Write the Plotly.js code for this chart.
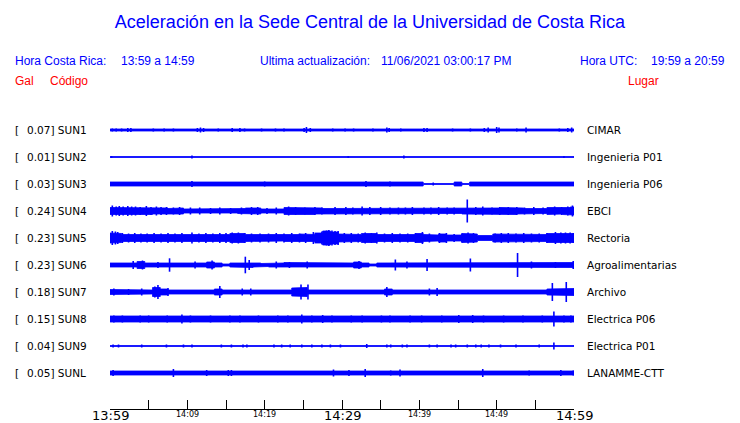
<!DOCTYPE html>
<html>
<head>
<meta charset="utf-8">
<script src="https://cdn.plot.ly/plotly-3.0.1.min.js"></script>
<style>html,body{margin:0;padding:0;background:#fff;}#chart{width:740px;height:423px;}</style>
</head>
<body>
<div id="chart"></div>
<script>
// ---------------- DATA ----------------
const stations = ["SUN1","SUN2","SUN3","SUN4","SUN5","SUN6","SUN7","SUN8","SUN9","SUNL"];
const galValues = ["0.07","0.01","0.03","0.24","0.23","0.23","0.18","0.15","0.04","0.05"];
const places = ["CIMAR","Ingenieria P01","Ingenieria P06","EBCI","Rectoria","Agroalimentarias","Archivo","Electrica P06","Electrica P01","LANAMME-CTT"];

// time axis: minutes after 13:59 (one envelope sample per minute)
const tickMinutes = [0,5,10,15,20,25,30,35,40,45,50,55,60];
const labelMinutes = [0,10,20,30,40,50,60];
const labelTexts  = ["13:59","14:09","14:19","14:29","14:39","14:49","14:59"];
const labelMajor  = [true,false,false,true,false,false,true];

// envelope half-amplitude per minute (display units)
const SUN1_env = [1,1,1,0.5,0.5,0.7,1,1,1,0.7,0.5,1,1,0.5,0.7,0.7,1,1,0.5,0.7,0.5,1,1,0.5,0.7,1,1,0.5,0.7,1,1,1,0.7,0.7,1,1,1,0.7,0.7,0.5,0.7,1,0.5,0.5,0.7,0.5,0.7,1,1,1,1,0.5,0.7,0.7,0.5,0.5,0.5,0.5,1,1,1];
const SUN2_env = [0.5,0.5,0.5,0.5,0.5,0.5,0.5,0.5,0.5,0.5,0.5,0.5,0.5,0.5,0.5,0.5,0.5,0.5,0.5,0.5,0.5,0.5,0.5,0.5,0.5,0.5,0.5,0.5,0.5,0.5,0.5,0.5,0.5,0.5,0.5,0.5,0.5,0.5,0.5,0.5,0.5,0.5,0.5,0.5,0.5,0.5,0.5,0.5,0.5,0.5,0.5,0.5,0.5,0.5,0.5,0.5,0.5,0.5,0.5,0.5,0.5];
const SUN3_env = [2,2,2,2,2,2,2,2,2,2,2,2,2,2,2,2,2,2,2,2,2.3,2,2,2,2,2,2,2,2,2,2,2,2,2,2,2,2,2,2,2,2,0.5,0.5,0.5,0.5,2,0.5,2,2,2,2,2,2,2,2,2,2,2,2,2,2];
const SUN4_env = [3.5,3.5,3.5,3.5,3,3.5,3,3,2.5,3,2,2,2,2,2,2,2,2.5,3,3,2,2,2,3.5,3,3,3.5,3,2.5,2.5,3,3,3,3,2.5,2.5,2.5,2.5,2.5,3,2.5,2.5,3,3,3,2.5,3,3,3,3,3,3.5,3.5,3,2.5,2.5,2.5,3.5,3,3.5,4];
const SUN5_env = [5,4.5,3.5,3.5,3.5,3,3.5,3,3.5,3.5,3.5,3,3.5,3.5,3.5,3.5,4.5,4.5,3.5,3.5,3.5,3.5,3,3.5,3.5,4,3.5,5,7,6,4,4,3.5,4.5,4.5,3.5,3.5,3.5,3.5,3.5,4.5,3.5,3,4,3,3,4.5,4,2.5,2.5,4,3.5,3.5,3.5,3.5,3.5,3.5,4.5,5,5,4.5];
const SUN6_env = [2,2,2,2,3.5,2,2,2,2,2,2,2.5,2,3,2,1,2,2.5,2.5,2,1.5,2,2,2.5,2,2,2,2,2,1.8,1.8,2,3,2,1,2,2,2,2,2,2,2.5,2,2,2,2,2,2,2,2,2,2.5,2.5,2.5,2,2,2,2,2,2,2.5];
const SUN7_env = [2.5,2,2,2,2,2,4.5,3,2,2.5,2.5,2.5,2.5,2,3,2,2,2,2,2.5,2,2,2,2,4,4.5,2,2,2.5,2,2.5,2.5,2,2,2,2,3,2,2,2,2,2,2.5,2,2,2,2,2,2,2.5,2,2,2,2,2,2,2,3,3,3.5,3.5];
const SUN8_env = [3,2.5,2.5,2.5,2.5,2.5,2.5,2.5,2.5,3,2.5,2.5,2.5,2.5,2.5,2.5,2.5,2.5,2.5,2.5,2.5,2.5,2.5,2.5,3,3,2.5,3,2.5,2.5,2.5,2.5,2.5,2.5,2.5,2.5,2.5,2.5,2.5,2.5,2.5,2.5,2.5,2.5,2.5,3,3,2.5,2.5,2.5,2.5,2.5,2.5,2.5,2.5,2.5,2.5,3,2.5,3,3];
const SUN9_env = [0.5,0.5,0.5,0.5,0.5,0.5,0.5,0.5,0.5,0.5,0.5,0.5,0.5,0.5,0.5,0.5,0.5,0.5,0.5,0.5,0.5,0.5,0.5,0.5,0.5,0.5,0.5,0.5,0.5,0.5,0.5,0.5,0.5,0.5,0.5,0.5,0.5,0.5,0.5,0.5,0.5,0.5,0.5,0.5,0.5,0.5,0.5,0.5,0.5,0.5,0.5,0.5,0.5,0.5,0.5,0.5,0.5,0.5,0.5,0.5,0.5];
const SUNL_env = [2,2,2,2,2,2,2,2,2,1.5,1.5,1.5,1.5,2,2,2,2,2,2,2,2,1.8,1.8,1.8,1.8,1.8,1.8,1.8,1.8,1.8,1.8,1.8,1.8,1.8,1.8,1.8,1.8,1.8,1.8,1.8,1.8,1.8,1.8,1.8,1.8,1.5,1.5,1.5,1.8,1.8,1.8,1.8,1.8,1.8,1.8,1.5,1.8,1.8,1.8,1.8,2];

// isolated peaks: minute and half-amplitude
const SUN1_pkT = [0.3,0.8,1.5,2.3,2.7,5.6,7.0,8.2,11.3,11.7,12.1,14.0,15.8,16.8,17.4,19.6,21.4,22.5,25.1,25.4,25.9,28.8,30.4,31.5,34.0,35.8,36.1,37.6,40.6,41.0,44.3,46.6,48.4,48.9,50.0,50.3,52.6,53.8,58.1,59.2,59.7];
const SUN1_pkA = [1.5,1.5,1.5,2,2,1.5,1.5,1.5,2,2.5,2,1.5,2,2,1.5,1.5,1.5,1.5,2,3,2,1.5,1.5,1.5,1.5,2.5,2,1.5,2,2,1.5,1.5,2,2.5,3,2.5,1.5,2.5,1.5,2,2.5];
const SUN2_pkT = [0.2,10.6,30.8,38.0,58.7];
const SUN2_pkA = [1,1.5,1,1.5,1];
const SUN3_pkT = [10.6,20.0,33.1,36.2,41.8];
const SUN3_pkA = [3,2.5,3,2.5,1.5];
const SUN4_pkT = [0.3,0.8,1.2,1.7,2.3,2.8,3.3,3.9,4.7,5.3,6.0,6.6,7.3,8.2,9.0,10.4,11.6,13.0,14.2,15.6,17.0,18.3,19.1,20.3,21.5,23.1,24.0,25.2,26.5,27.4,29.1,30.5,31.4,32.6,33.6,35.0,36.2,37.3,38.2,39.1,40.6,41.5,42.5,43.6,44.5,46.2,47.3,48.2,49.4,50.4,51.5,52.6,53.6,54.8,56.0,57.5,58.4,59.2,59.8];
const SUN4_pkA = [5.5,4.5,5,4.5,5,4.5,4.5,4,5,4,4.5,4,4,3.5,4,3.5,3.5,3,3.5,3,3.5,4,4,3,3.5,4.5,4,3.5,4,3.5,4,4,3.5,4.5,4,4,3.5,3.5,3.5,4,3.5,3.5,4,3.5,3.5,11.5,4,4.5,3.5,4,4,4,3.5,4,3.5,4.5,4,4.5,5.5];
const SUN5_pkT = [0.3,0.7,1.0,1.6,2.4,3.2,4.0,4.8,5.7,6.6,7.5,8.4,9.3,10.6,11.5,12.4,13.3,14.2,15.0,15.8,16.6,17.4,18.3,19.4,20.5,21.5,22.5,23.5,24.5,25.3,26.3,27.4,28.0,28.3,28.7,29.1,29.5,30.3,31.2,32.1,33.0,33.8,34.5,35.5,36.5,37.5,38.5,39.5,40.4,41.3,42.6,43.5,44.5,45.5,46.3,47.0,49.8,50.6,51.5,52.5,53.5,54.5,55.5,56.5,57.6,58.3,58.9,59.5,59.9];
const SUN5_pkA = [7,6.5,6,5,4.5,5,4.5,4.5,5,4.5,5,4.5,5,5.5,4.5,5,4.5,5,5,5.5,5.5,5,4.5,4.5,4.5,5,4.5,5,4.5,5,6,6.5,7.5,8,7.5,7,7,5,5,4.5,5.5,5,5.5,4.5,5,4.5,4.5,5,6,4.5,5,5,4,4.5,5.5,5,4.5,5,5,4.5,5,4.5,4.5,5,6,5.5,5.5,5.5,5];
const SUN6_pkT = [3.0,4.2,6.2,7.7,11.0,13.2,17.5,18.0,21.5,23.2,25.5,32.2,36.9,38.4,41.0,46.6,52.7,54.5,57.6,59.9];
const SUN6_pkA = [4,4.5,3,6.7,3.5,4.5,8.3,5,3.5,3,3.5,4,5.5,3.5,6,6.5,12,3.5,3,4];
const SUN7_pkT = [0.5,2.4,4.1,5.8,6.2,7.5,14.2,17.1,18.2,24.7,25.6,35.8,41.3,42.3,57.2,59.0];
const SUN7_pkA = [3.5,3,3.5,5.5,7,4,6,3.5,3.5,7.5,7.5,5,3.5,4,9,10];
const SUN8_pkT = [0.5,1.6,2.5,3.9,5.0,6.1,7.4,8.4,9.3,10.4,11.9,13.0,14.3,15.5,16.8,18.1,19.2,20.6,21.7,23.0,24.8,26.1,27.5,28.7,30.1,31.2,32.6,33.7,35.1,36.2,37.7,38.8,40.3,41.4,42.9,43.9,45.1,46.9,48.3,49.4,50.9,51.9,53.4,54.5,55.9,57.4,58.7,59.6];
const SUN8_pkA = [3.5,3.5,3,3.5,3.5,3,3.5,3,4.5,3.5,3,3.5,3,3.5,3.5,3,3.5,3,3.5,3.5,4.5,3.5,4,3.5,3,3.5,3.5,3,3.5,3.5,3,3.5,3.5,3,3.5,3,4,4,3.5,3,3.5,3,3.5,3,3.5,7.5,3.5,3.5];
const SUN9_pkT = [0.4,1.1,4.1,7.3,9.5,10.6,14.4,15.7,17.2,17.7,21.2,22.2,23.3,24.8,26.1,27.4,28.5,29.8,33.2,35.8,36.3,37.8,38.4,41.3,42.3,44.1,44.7,46.2,47.3,48.0,49.0,50.5,52.5,55.5,57.4];
const SUN9_pkA = [1.5,1.5,1.5,1.5,1.5,1.5,1.5,1.5,1.5,1.5,1.5,1.5,1.5,1.5,1.5,1.5,1.5,1.5,2,1.5,1.5,1.5,1.5,1.5,1.5,1.5,1.5,1.5,1.5,1.5,1.5,1.5,1.5,1.5,3.5];
const SUNL_pkT = [0.4,8.2,12.5,15.3,15.7,28.9,30.9,33.0,36.3,37.5,48.2,54.2,58.3,59.9];
const SUNL_pkA = [3,4,3,3,3,3.5,3,4,2.5,3.5,4,2.5,3,2.5];

const envelopes = [SUN1_env,SUN2_env,SUN3_env,SUN4_env,SUN5_env,SUN6_env,SUN7_env,SUN8_env,SUN9_env,SUNL_env];
const peakTimes = [SUN1_pkT,SUN2_pkT,SUN3_pkT,SUN4_pkT,SUN5_pkT,SUN6_pkT,SUN7_pkT,SUN8_pkT,SUN9_pkT,SUNL_pkT];
const peakAmps  = [SUN1_pkA,SUN2_pkA,SUN3_pkA,SUN4_pkA,SUN5_pkA,SUN6_pkA,SUN7_pkA,SUN8_pkA,SUN9_pkA,SUNL_pkA];

// ---------------- BUILD ----------------
const BLUE = "#0000ff";
const SPACING = 27;
const T_END = 60;
const traces = [];
stations.forEach((s, i) => {
  const c = -SPACING * i;
  const env = envelopes[i];
  const ux = [], uy = [];
  env.forEach((a, k) => {
    ux.push(Math.max(0, k - 0.5), Math.min(T_END, k + 0.5));
    uy.push(c + a, c + a);
  });
  const lx = ux.slice().reverse();
  const ly = [];
  for (let k = env.length - 1; k >= 0; k--) ly.push(c - env[k], c - env[k]);
  traces.push({
    type: "scatter", mode: "lines", x: ux.concat(lx), y: uy.concat(ly),
    fill: "toself", fillcolor: BLUE, line: {color: BLUE, width: 0.8},
    hoverinfo: "skip", showlegend: false
  });
  const px = [], py = [];
  peakTimes[i].forEach((t, k) => {
    const a = peakAmps[i][k];
    px.push(t, t, null); py.push(c - a, c + a, null);
  });
  traces.push({
    type: "scatter", mode: "lines", x: px, y: py,
    line: {color: BLUE, width: 1.6}, hoverinfo: "skip", showlegend: false
  });
});

// layout geometry (pixels)
const W = 740, H = 423, ML = 110, MR = 166, MT = 115, MB = 14;
const PW = W - ML - MR, PH = H - MT - MB;
const fx = p => (p - ML) / PW;
const fy = p => (H - MB - p) / PH;

const annotations = [];
function txt(text, px, py, size, color, family, anchor) {
  annotations.push({
    text: text, xref: "paper", yref: "paper", x: fx(px), y: fy(py),
    xanchor: anchor || "left", yanchor: "middle", showarrow: false,
    borderpad: 0, font: {size: size, color: color, family: family}
  });
}
const SANS = "Liberation Sans, Arial, sans-serif";
const DJ = "DejaVu Sans, sans-serif";

txt("Hora Costa Rica:", 14, 61, 12, BLUE, SANS);
txt("13:59 a 14:59", 120, 61, 12, BLUE, SANS);
txt("Ultima actualización:", 259, 61, 12, BLUE, SANS);
txt("11/06/2021 03:00:17 PM", 380, 61, 12, BLUE, SANS);
txt("Hora UTC:", 579, 61, 12, BLUE, SANS);
txt("19:59 a 20:59", 650, 61, 12, BLUE, SANS);
txt("Gal", 14, 81, 12, "#ff0000", SANS);
txt("Código", 49, 81, 12, "#ff0000", SANS);
txt("Lugar", 627, 81, 12, "#ff0000", SANS);

stations.forEach((s, i) => {
  const py = 130 + SPACING * i;
  txt("[", 14, py, 10.5, "#000", DJ);
  txt(galValues[i] + "] " + s, 26, py, 10.5, "#000", DJ);
  txt(places[i], 586, py, 10.5, "#000", DJ);
});

labelMinutes.forEach((m, k) => {
  annotations.push({
    text: labelTexts[k], xref: "x", yref: "paper", x: m,
    y: fy(labelMajor[k] ? 415.5 : 414.5), xanchor: "center", yanchor: "middle",
    showarrow: false, borderpad: 0,
    font: {size: labelMajor[k] ? 13 : 8, color: "#000", family: DJ}
  });
});

const layout = {
  width: W, height: H,
  margin: {l: ML, r: MR, t: MT, b: MB, pad: 0},
  paper_bgcolor: "#fff", plot_bgcolor: "#fff",
  showlegend: false,
  title: {
    text: "Aceleración en la Sede Central de la Universidad de Costa Rica",
    xref: "container", yref: "container", x: 0.5, y: 1 - 22 / H,
    xanchor: "center", yanchor: "middle",
    font: {size: 18, color: BLUE, family: SANS}
  },
  xaxis: {
    range: [0, T_END], showgrid: false, zeroline: false,
    showline: true, linecolor: "#000", linewidth: 1,
    ticks: "inside", ticklen: 9, tickcolor: "#000", tickwidth: 1,
    tickvals: tickMinutes, showticklabels: false, fixedrange: true
  },
  yaxis: {
    range: [-SPACING * (stations.length - 1) - 36, 15],
    visible: false, showgrid: false, zeroline: false, fixedrange: true
  },
  annotations: annotations
};

Plotly.newPlot("chart", traces, layout, {staticPlot: true, displayModeBar: false});
</script>
</body>
</html>
